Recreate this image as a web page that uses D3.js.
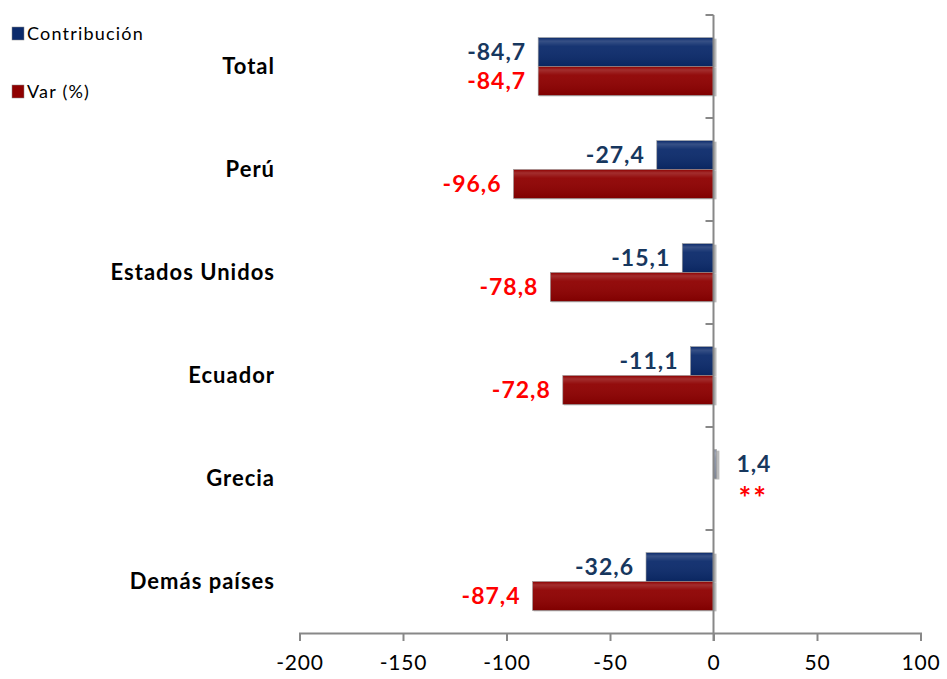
<!DOCTYPE html>
<html>
<head>
<meta charset="utf-8">
<script src="https://cdn.jsdelivr.net/npm/d3@7"></script>
<style>
  body { margin: 0; background: #fff; }
  text { font-family: Lato, "Open Sans", sans-serif; }
</style>
</head>
<body>
<script>
const width = 947, height = 679

// data
const categories = ['Total', 'Perú', 'Estados Unidos', 'Ecuador', 'Grecia', 'Demás países']
const contribucion = [-84.7, -27.4, -15.1, -11.1, 1.4, -32.6]
const variacion = [-84.7, -96.6, -78.8, -72.8, null, -87.4]
const xTicks = [-200, -150, -100, -50, 0, 50, 100]
const seriesNames = ['Contribución', 'Var (%)']

const fmt = v => d3.format('.1f')(v).replace('.', ',').replace('\u2212', '-')

const svg = d3.select('body').append('svg')
  .attr('width', width)
  .attr('height', height)

/* gradient for the glossy bars */
const defs = svg.append('defs')
const gloss = defs.append('linearGradient')
  .attr('id', 'gloss').attr('x1', 0).attr('y1', 0).attr('x2', 0).attr('y2', 1)
gloss.append('stop').attr('offset', '0%').attr('stop-color', '#fff').attr('stop-opacity', 0.0)
gloss.append('stop').attr('offset', '12%').attr('stop-color', '#fff').attr('stop-opacity', 0.18)
gloss.append('stop').attr('offset', '30%').attr('stop-color', '#fff').attr('stop-opacity', 0.05)
gloss.append('stop').attr('offset', '100%').attr('stop-color', '#000').attr('stop-opacity', 0.1)

const x = d3.scaleLinear()
  .domain([-200, 100])
  .range([299.5, 920.5])

const y = d3.scaleBand()
  .domain(categories)
  .range([15, 633])
  .paddingInner(0.44)
  .paddingOuter(0.22)

const ySub = d3.scaleBand()
  .domain(['c', 'v'])
  .range([0, y.bandwidth()])

const colors = { c: '#0b2a6b', v: '#8e0000' }
const labelColors = { c: '#17375e', v: '#ff0000' }

/* bars */
const rows = categories.map((cat, i) => ({ cat, c: contribucion[i], v: variacion[i] }))

rows.forEach(r => {
  ;['c', 'v'].forEach(k => {
    const val = r[k]
    const ty = y(r.cat) + ySub(k)
    if (val !== null) {
      const x0 = Math.min(x(0), x(val)), w = Math.abs(x(val) - x(0))
      svg.append('rect')
        .attr('x', x0 + 1).attr('y', ty + 1)
        .attr('width', w + 2).attr('height', ySub.bandwidth())
        .attr('fill', '#bbb')
      svg.append('rect')
        .attr('x', x0).attr('y', ty)
        .attr('width', Math.max(w, 2.5)).attr('height', ySub.bandwidth())
        .attr('fill', w < 5 ? '#8a93a6' : colors[k])
        .attr('stroke', '#999').attr('stroke-width', 0.6)
      svg.append('rect')
        .attr('x', x0).attr('y', ty)
        .attr('width', Math.max(w, 2.5)).attr('height', ySub.bandwidth())
        .attr('fill', 'url(#gloss)')
    }
    // value labels
    const lbl = svg.append('text')
      .attr('y', ty + ySub.bandwidth() / 2)
      .attr('dy', '0.36em')
      .attr('font-size', 23)
      .attr('font-weight', 'bold')
      .attr('letter-spacing', 1)
      .attr('fill', labelColors[k])
    if (val === null) {
      lbl.attr('x', x(0) + 25).attr('text-anchor', 'start').text('**')
        .attr('font-size', 30).attr('dy', '0.55em').attr('letter-spacing', 2)
    } else if (val >= 0) {
      lbl.attr('x', x(val) + 20).attr('text-anchor', 'start').text(fmt(val))
    } else {
      lbl.attr('x', x(val) - 12).attr('text-anchor', 'end').text(fmt(val))
    }
  })
})

/* axes */
const xAxis = d3.axisBottom(x).tickValues(xTicks).tickSize(8).tickFormat(d => d)
const gx = svg.append('g')
  .attr('transform', `translate(0,${y.range()[1]})`)
  .call(xAxis)
gx.select('.domain').attr('stroke', '#888').attr('stroke-width', 2)
gx.selectAll('.tick line').attr('stroke', '#888').attr('stroke-width', 2)
gx.selectAll('.tick text')
  .attr('font-size', 21).attr('fill', '#000').attr('dy', '1.25em')
  .attr('letter-spacing', 0.8)
  .style('font-family', 'Lato, sans-serif')

const yTickPos = d3.range(0, categories.length + 1).map(i => y.range()[0] + i * (y.range()[1] - y.range()[0]) / categories.length)
const gy = svg.append('g').attr('transform', `translate(${x(0)},0)`)
gy.append('line')
  .attr('y1', y.range()[0]).attr('y2', y.range()[1] + 8)
  .attr('stroke', '#888').attr('stroke-width', 2)
gy.selectAll('.yt').data(yTickPos.slice(0, -1))
  .enter().append('line')
  .attr('x1', -8).attr('x2', 0)
  .attr('y1', d => d).attr('y2', d => d)
  .attr('stroke', '#888').attr('stroke-width', 2)

/* category labels */
svg.selectAll('.cat').data(categories)
  .enter().append('text')
  .attr('x', 275)
  .attr('y', d => y(d) + y.bandwidth() / 2)
  .attr('dy', '0.36em')
  .attr('text-anchor', 'end')
  .attr('font-size', 22)
  .attr('font-weight', 'bold')
  .attr('letter-spacing', 1)
  .attr('fill', '#000')
  .text(d => d)

/* legend */
const legend = svg.append('g')
seriesNames.forEach((name, i) => {
  const ly = 34 + i * 58
  legend.append('rect')
    .attr('x', 12).attr('y', ly - 7).attr('width', 12).attr('height', 13)
    .attr('fill', i === 0 ? colors.c : colors.v)
    .attr('stroke', '#888').attr('stroke-width', 0.5)
  legend.append('text')
    .attr('x', 27).attr('y', ly).attr('dy', '0.36em')
    .attr('font-size', 18)
    .attr('letter-spacing', 1.2)
    .attr('fill', '#000')
    .text(name)
})
</script>
</body>
</html>
